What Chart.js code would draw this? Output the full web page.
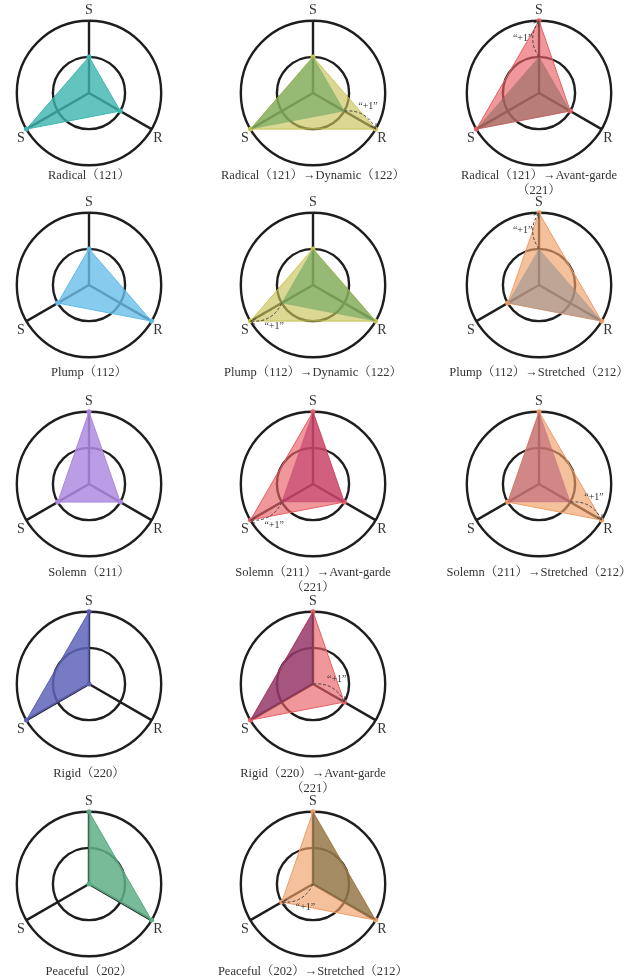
<!DOCTYPE html>
<html>
<head>
<meta charset="utf-8">
<script src="https://cdn.jsdelivr.net/npm/chart.js@4.4.1/dist/chart.umd.min.js"></script>
<style>
  body { margin: 0; background: #fff; }
  #page { position: relative; width: 629px; height: 980px; overflow: hidden; }
  .panel { position: absolute; }
  .caption {
    position: absolute; width: 240px; text-align: center; white-space: nowrap;
    font-family: "Liberation Serif", "Noto Serif CJK SC", "Noto Sans CJK SC", serif;
    font-size: 12.5px; line-height: 15px; color: #333;
  }
</style>
</head>
<body>
<div id="page"></div>
<script>
// axes in drawing order: top S, lower-right R, lower-left S
const axisLabels = ['S', 'R', 'S'];

// values per axis (top S, R, left S), read from the codes
const radical    = [1, 1, 2]; // 121
const plump      = [1, 2, 1]; // 112
const solemn     = [2, 1, 1]; // 211
const rigid      = [2, 0, 2]; // 220
const peaceful   = [2, 2, 0]; // 202
const dynamic    = [1, 2, 2]; // 122
const avantGarde = [2, 1, 2]; // 221
const stretched  = [2, 2, 1]; // 212

const captions = [
  ['Radical（121）'], ['Radical（121）→Dynamic（122）'], ['Radical（121）→Avant-garde', '（221）'],
  ['Plump（112）'], ['Plump（112）→Dynamic（122）'], ['Plump（112）→Stretched（212）'],
  ['Solemn（211）'], ['Solemn（211）→Avant-garde', '（221）'], ['Solemn（211）→Stretched（212）'],
  ['Rigid（220）'], ['Rigid（220）→Avant-garde', '（221）'],
  ['Peaceful（202）'], ['Peaceful（202）→Stretched（212）']
];

const colours = {
  radical:    { fill: 'rgba(60,180,175,0.8)',   line: 'rgb(60,180,175)' },
  plump:      { fill: 'rgba(105,190,235,0.8)',  line: 'rgb(95,185,230)' },
  solemn:     { fill: 'rgba(175,140,225,0.85)', line: 'rgb(170,135,220)' },
  rigid:      { fill: 'rgba(95,100,185,0.85)',  line: 'rgb(90,95,180)' },
  peaceful:   { fill: 'rgba(95,175,135,0.85)',  line: 'rgb(90,170,130)' },
  dynamic:    { fill: 'rgba(200,195,90,0.65)',  line: 'rgb(200,195,80)' },
  avantGarde: { fill: 'rgba(230,95,100,0.65)',  line: 'rgb(230,95,100)' },
  stretched:  { fill: 'rgba(240,160,105,0.65)', line: 'rgb(240,155,100)' }
};

// fill of the old shape drawn over the new one
const overlapFill = {
  radicalDynamic:  'rgba(104,164,93,0.6)',
  plumpDynamic:    'rgba(104,164,93,0.6)',
  radicalAvant:    'rgba(149,108,97,0.6)',
  solemnAvant:     'rgba(191,58,106,0.6)',
  rigidAvant:      'rgba(116,41,106,0.6)',
  plumpStretched:  'rgba(153,147,145,0.6)',
  solemnStretched: 'rgba(187,97,120,0.6)',
  peacefulStretched: 'rgba(112,105,62,0.6)'
};

const panels = [
  { row: 0, col: 0, from: radical, colour: 'radical' },
  { row: 0, col: 1, from: radical, to: dynamic, colour: 'dynamic', over: 'radicalDynamic' },
  { row: 0, col: 2, from: radical, to: avantGarde, colour: 'avantGarde', over: 'radicalAvant' },
  { row: 1, col: 0, from: plump, colour: 'plump' },
  { row: 1, col: 1, from: plump, to: dynamic, colour: 'dynamic', over: 'plumpDynamic' },
  { row: 1, col: 2, from: plump, to: stretched, colour: 'stretched', over: 'plumpStretched' },
  { row: 2, col: 0, from: solemn, colour: 'solemn' },
  { row: 2, col: 1, from: solemn, to: avantGarde, colour: 'avantGarde', over: 'solemnAvant' },
  { row: 2, col: 2, from: solemn, to: stretched, colour: 'stretched', over: 'solemnStretched' },
  { row: 3, col: 0, from: rigid, colour: 'rigid' },
  { row: 3, col: 1, from: rigid, to: avantGarde, colour: 'avantGarde', over: 'rigidAvant' },
  { row: 4, col: 0, from: peaceful, colour: 'peaceful' },
  { row: 4, col: 1, from: peaceful, to: stretched, colour: 'stretched', over: 'peacefulStretched' }
];

// layout
const colX = [89, 313, 539];
const rowY = [93, 285, 484, 684, 884];
const captionGap = [82, 87, 88, 89, 87];
const W = 200, H = 182;

const page = document.getElementById('page');

// dashed "+1" arrow on the axis that changed
function makePlusOne(from, to) {
  return {
    id: 'plusOne',
    afterDatasetsDraw(chart) {
      if (!to) return;
      const r = chart.scales.r;
      const ctx = chart.ctx;
      from.forEach((v, i) => {
        if (to[i] === v) return;
        const p0 = r.getPointPositionForValue(i, v);
        const p1 = r.getPointPositionForValue(i, to[i]);
        const a = p1.angle - Math.PI / 2;
        const nx = Math.cos(a), ny = Math.sin(a);
        const len = Math.hypot(p1.x - p0.x, p1.y - p0.y);
        const bulge = len * 0.35;
        const cx = (p0.x + p1.x) / 2 + nx * bulge;
        const cy = (p0.y + p1.y) / 2 + ny * bulge;
        ctx.save();
        ctx.strokeStyle = '#444';
        ctx.lineWidth = 1;
        ctx.setLineDash([3, 2]);
        ctx.beginPath();
        ctx.moveTo(p0.x, p0.y);
        ctx.quadraticCurveTo(cx, cy, p1.x, p1.y);
        ctx.stroke();
        // arrow head
        ctx.setLineDash([]);
        let ux = p1.x - cx, uy = p1.y - cy;
        const ul = Math.hypot(ux, uy);
        ux /= ul; uy /= ul;
        ctx.beginPath();
        ctx.moveTo(p1.x - ux * 5 - uy * 3, p1.y - uy * 5 + ux * 3);
        ctx.lineTo(p1.x, p1.y);
        ctx.lineTo(p1.x - ux * 5 + uy * 3, p1.y - uy * 5 - ux * 3);
        ctx.stroke();
        // label
        ctx.fillStyle = '#333';
        ctx.font = '10px "Liberation Serif"';
        ctx.textAlign = 'center';
        ctx.textBaseline = 'middle';
        const lx = (p0.x + p1.x) / 2 + nx * (bulge / 2 + 10);
        const ly = (p0.y + p1.y) / 2 + ny * (bulge / 2 + 10);
        ctx.fillText('“+1”', lx, ly);
        ctx.restore();
      });
    }
  };
}

panels.forEach((p, k) => {
  const cx = colX[p.col], cy = rowY[p.row];
  const wrap = document.createElement('div');
  wrap.className = 'panel';
  const canvas = document.createElement('canvas');
  canvas.width = W;
  canvas.height = H;
  wrap.appendChild(canvas);
  page.appendChild(wrap);

  const c = colours[p.colour];
  const datasets = [];
  if (p.to) {
    datasets.push({
      data: p.from,
      backgroundColor: overlapFill[p.over],
      borderColor: overlapFill[p.over],
      borderWidth: 0.5,
      pointRadius: 0
    });
    datasets.push({
      data: p.to,
      backgroundColor: c.fill,
      borderColor: c.line,
      borderWidth: 1,
      pointRadius: 2.5,
      pointBorderWidth: 0,
      pointBackgroundColor: c.line
    });
  } else {
    datasets.push({
      data: p.from,
      backgroundColor: c.fill,
      borderColor: c.line,
      borderWidth: 1,
      pointRadius: 2.5,
      pointBorderWidth: 0,
      pointBackgroundColor: c.line
    });
  }

  const chart = new Chart(canvas, {
    type: 'radar',
    data: { labels: axisLabels, datasets: datasets },
    options: {
      responsive: false,
      animation: false,
      plugins: { legend: { display: false }, tooltip: { enabled: false } },
      elements: { line: { tension: 0 } },
      scales: {
        r: {
          min: 0,
          max: 2,
          ticks: { display: false, stepSize: 1 },
          grid: { circular: true, color: '#1e1e1e', lineWidth: 2.4 },
          angleLines: { color: '#1e1e1e', lineWidth: 2.4 },
          pointLabels: {
            color: '#333',
            padding: 2,
            font: { family: 'Liberation Serif', size: 14 }
          }
        }
      }
    },
    plugins: [makePlusOne(p.from, p.to)]
  });

  const s = chart.scales.r;
  wrap.style.left = (cx - s.xCenter) + 'px';
  wrap.style.top = (cy - s.yCenter) + 'px';

  const cap = document.createElement('div');
  cap.className = 'caption';
  cap.style.left = (cx - 120) + 'px';
  cap.style.top = (cy + captionGap[p.row] - 7) + 'px';
  cap.innerHTML = captions[k].join('<br>');
  page.appendChild(cap);
});
</script>
</body>
</html>
